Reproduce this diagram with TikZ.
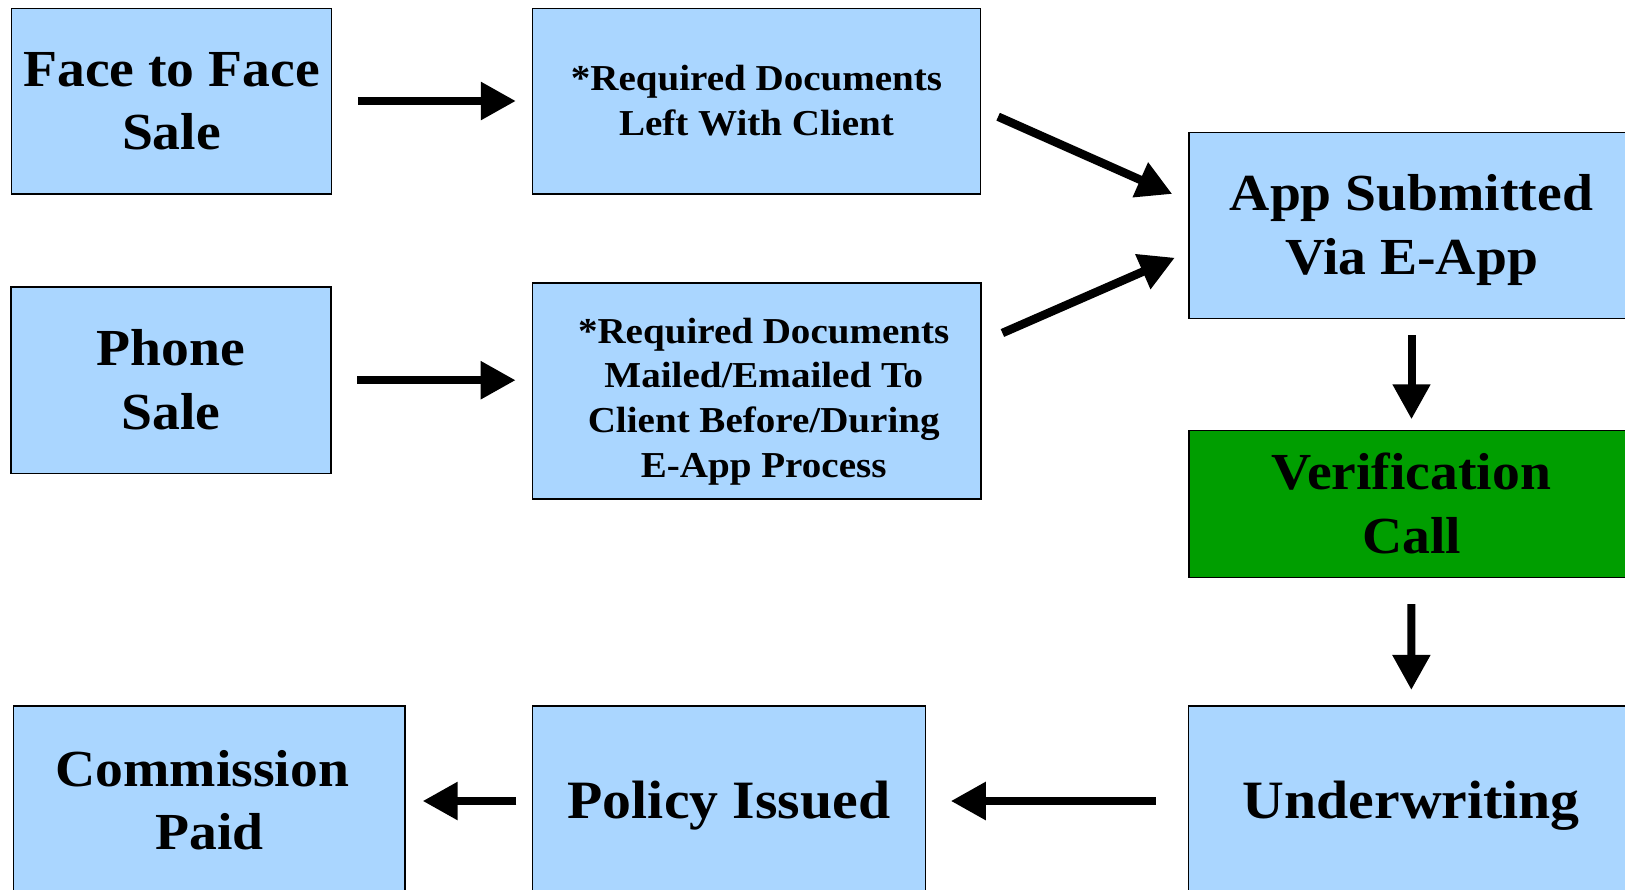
\documentclass[tikz,border=0pt]{standalone}
\usepackage{fontspec}
\newfontfamily\boxfont{Liberation Serif}[FakeStretch=1.07]
\usetikzlibrary{arrows.meta,calc}
\definecolor{boxblue}{RGB}{170,214,255}
\definecolor{boxgreen}{RGB}{0,158,0}
\begin{document}
\begin{tikzpicture}[x=1pt,y=-1pt,
  box/.style={draw=black, line width=1.5pt, fill=boxblue, inner sep=0pt, align=center},
  bigtwo/.style={font=\boxfont\bfseries\fontsize{52}{63.5}\selectfont, text height=97.9pt, text depth=0pt},
  bigone/.style={font=\boxfont\bfseries\fontsize{54}{64}\selectfont, text height=35.7pt, text depth=0pt},
  smalltwo/.style={font=\boxfont\bfseries\fontsize{36.5}{44.7}\selectfont, text height=68.9pt, text depth=0pt},
  smallfour/.style={font=\boxfont\bfseries\fontsize{36.5}{44.7}\selectfont, text height=158.3pt, text depth=0pt},
  arr/.style={line width=8.5pt, -{Triangle[width=36pt,length=35pt]}}]
\useasboundingbox (0,0) rectangle (1625,889);
\clip (0,0) rectangle (1625,889);
\node[box,bigtwo,minimum width=320.2pt,minimum height=185.5pt] (face) at (171.5,101) {Face to Face\\Sale};
\node[box,smalltwo,minimum width=447.7pt,minimum height=185.5pt] (req1) at (756.5,101) {*Required Documents\\Left With Client};
\node[box,bigtwo,minimum width=320.2pt,minimum height=186.3pt] (phone) at (170.9,380.2) {Phone\\Sale};
\node[box,minimum width=448.5pt,minimum height=216pt] (req2) at (756.7,391) {};
\node[smallfour,align=center,inner sep=0pt] (req2t) at ($(req2.center)+(7,7)$) {*Required Documents\\Mailed/Emailed To\\Client Before/During\\E-App Process};
\node[box,bigtwo,minimum width=445pt,minimum height=186pt] (app) at (1411.5,225.3) {App Submitted\\Via E-App};
\node[box,bigtwo,fill=boxgreen,minimum width=445pt,minimum height=147pt] (ver) at (1411.5,504.2) {Verification\\Call};
\node[box,bigone,minimum width=445.4pt,minimum height=190pt] (under) at (1411.3,801) {Underwriting};
\node[box,bigone,minimum width=392.8pt,minimum height=190pt] (policy) at (729,801) {Policy Issued};
\node[box,bigtwo,minimum width=391.5pt,minimum height=190pt] (comm) at (209.3,801) {Commission\hspace*{14pt}\\Paid};
\draw[arr, shorten <=25.4pt, shorten >=16pt] (face.east) -- (face.east -| req1.west);
\draw[arr, shorten <=25.4pt, shorten >=16pt] (phone.east) -- (phone.east -| req2.west);
\draw[arr] ($(req1.east)+(17,15.7)$) -- ($(app.west)+(-16,-31.3)$);
\draw[arr] ($(req2.east)+(20.7,-58)$) -- ($(app.west)+(-13.4,32.4)$);
\draw[arr, line width=8pt, shorten <=16pt, shorten >=10.7pt] (app.south) -- (ver.north);
\draw[arr, line width=8pt, shorten <=25.6pt, shorten >=15.3pt] (ver.south) -- (under.north);
\draw[arr, shorten <=32pt, shorten >=24.6pt] (under.west) -- (policy.east);
\draw[arr, shorten <=15.6pt, shorten >=16.8pt] (policy.west) -- (comm.east);
\end{tikzpicture}
\end{document}
